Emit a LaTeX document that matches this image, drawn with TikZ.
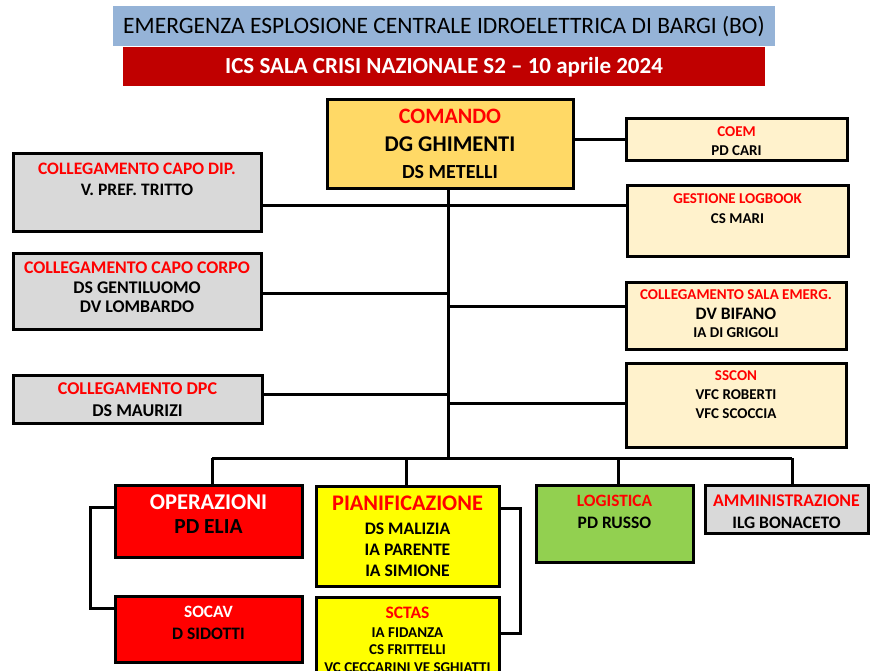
\documentclass[tikz,border=0pt]{standalone}
\usepackage{fontspec}
\setmainfont{Carlito}

\definecolor{cblu}{HTML}{95B3D7}
\definecolor{cbordeaux}{HTML}{C00000}
\definecolor{coro}{HTML}{FFD966}
\definecolor{ccrema}{HTML}{FFF2CC}
\definecolor{cgrigio}{HTML}{D9D9D9}
\definecolor{cverde}{HTML}{92D050}
\definecolor{cgiallo}{HTML}{FFFF00}
\definecolor{crosso}{HTML}{FF0000}

% box body: width, height, top gap, lines
\newcommand{\cella}[4]{\parbox[t][#2pt][t]{#1pt}{\centering\vspace*{#3pt}#4}}
% one text line: size, baselineskip, colour, text
\newcommand{\riga}[4]{{\fontsize{#1pt}{#2pt}\selectfont\leavevmode\color{#3}#4\par}}

\tikzset{
  linea/.style={line width=3pt},
  unita/.style={draw=black, line width=3pt, inner sep=0pt, anchor=north west, font=\bfseries},
  titolo/.style={inner sep=0pt, text height=14.8pt, text depth=0pt},
}

\begin{document}
\begin{tikzpicture}[x=1pt,y=-1pt]
    \useasboundingbox (0,0) rectangle (872,671);
    \clip (0,0) rectangle (872,671);

    % titles
    \node[titolo, fill=cblu, minimum width=662pt, minimum height=40pt,
          font=\fontsize{23.5pt}{27pt}\selectfont] (tit1) at (444,26)
        {EMERGENZA ESPLOSIONE CENTRALE IDROELETTRICA DI BARGI (BO)};
    \node[titolo, fill=cbordeaux, minimum width=642pt, minimum height=39pt, text=white,
          font=\fontsize{23pt}{27pt}\selectfont\bfseries] (tit2) at (444,66.5)
        {ICS SALA CRISI NAZIONALE S2 -- 10 aprile 2024};

    % command
    \node[unita, fill=coro] (comando) at (325.5,98.5) {\cella{246}{89}{9.3}{%
        \riga{22}{22}{crosso}{COMANDO}%
        \riga{22.5}{28.2}{black}{DG GHIMENTI}%
        \riga{20}{26.2}{black}{DS METELLI}}};

    % staff on the right
    \node[unita, fill=ccrema] (coem) at (624.5,117.5) {\cella{221}{42}{7.6}{%
        \riga{15}{15}{crosso}{COEM}%
        \riga{15}{19}{black}{PD CARI}}};
    \node[unita, fill=ccrema] (logbook) at (625.5,184.5) {\cella{221}{70}{7.6}{%
        \riga{15}{15}{crosso}{GESTIONE LOGBOOK}%
        \riga{15}{20}{black}{CS MARI}}};
    \node[unita, fill=ccrema] (salaemerg) at (624.5,280.5) {\cella{220}{67}{7.6}{%
        \riga{15}{15}{crosso}{COLLEGAMENTO SALA EMERG.}%
        \riga{17.5}{19.8}{black}{DV BIFANO}%
        \riga{15}{18.2}{black}{IA DI GRIGOLI}}};
    \node[unita, fill=ccrema] (sscon) at (624.5,361.5) {\cella{220}{84}{7.6}{%
        \riga{15}{15}{crosso}{SSCON}%
        \riga{15}{19}{black}{VFC ROBERTI}%
        \riga{15}{19}{black}{VFC SCOCCIA}}};

    % liaisons on the left
    \node[unita, fill=cgrigio] (capodip) at (11.5,152.5) {\cella{248}{77}{8.8}{%
        \riga{17.5}{17.5}{crosso}{COLLEGAMENTO CAPO DIP.}%
        \riga{17.5}{21}{black}{V. PREF. TRITTO}}};
    \node[unita, fill=cgrigio] (capocorpo) at (11.5,251.5) {\cella{248}{76}{8.7}{%
        \riga{17.8}{17.8}{crosso}{COLLEGAMENTO CAPO CORPO}%
        \riga{17.8}{20}{black}{DS GENTILUOMO}%
        \riga{17.8}{19}{black}{DV LOMBARDO}}};
    \node[unita, fill=cgrigio] (dpc) at (11.5,373.5) {\cella{249}{48}{7.6}{%
        \riga{18}{18}{crosso}{COLLEGAMENTO DPC}%
        \riga{18}{22}{black}{DS MAURIZI}}};

    % sections
    \node[unita, fill=crosso] (operazioni) at (113.5,483.5) {\cella{187}{72}{10.1}{%
        \riga{22.5}{22.5}{white}{OPERAZIONI}%
        \riga{21.5}{23.7}{black}{PD ELIA}}};
    \node[unita, fill=crosso] (socav) at (113.5,594.5) {\cella{187}{66}{9.8}{%
        \riga{17.3}{17.3}{white}{SOCAV}%
        \riga{17.5}{22}{black}{D SIDOTTI}}};
    \node[unita, fill=cgiallo] (pian) at (314.5,484.5) {\cella{183}{100}{10.2}{%
        \riga{22.3}{22.3}{crosso}{PIANIFICAZIONE}%
        \riga{17.6}{23.5}{black}{DS MALIZIA}%
        \riga{17.6}{21}{black}{IA PARENTE}%
        \riga{17.6}{21}{black}{IA SIMIONE}}};
    \node[unita, fill=cgiallo] (sctas) at (314.5,595.5) {\cella{183}{100}{9.8}{%
        \riga{17.5}{17.5}{crosso}{SCTAS}%
        \riga{15}{19.2}{black}{IA FIDANZA}%
        \riga{15}{17}{black}{CS FRITTELLI}%
        \riga{15}{18}{black}{VC CECCARINI VE SGHIATTI}}};
    \node[unita, fill=cverde] (logistica) at (534.5,483.5) {\cella{157}{77}{9.8}{%
        \riga{17.3}{17.3}{crosso}{LOGISTICA}%
        \riga{17.5}{22}{black}{PD RUSSO}}};
    \node[unita, fill=cgrigio] (amministrazione) at (703.5,483.5) {\cella{163}{48}{9.7}{%
        \riga{17.8}{17.8}{crosso}{AMMINISTRAZIONE}%
        \riga{17.5}{22}{black}{ILG BONACETO}}};

    % trunk and branches
    \coordinate (t1) at (448,205);
    \coordinate (t2) at (448,293);
    \coordinate (t3) at (448,306);
    \coordinate (t4) at (448,394);
    \coordinate (t5) at (448,403);
    \coordinate (bus) at (448,458);
    \draw[linea] (comando.south -| bus) -- (bus);
    \draw[linea] (coem.west -| comando.east) -- (coem.west);
    \draw[linea] (t1 -| capodip.east) -- (t1 -| logbook.west);
    \draw[linea] (t2 -| capocorpo.east) -- (t2);
    \draw[linea] (t3) -- (t3 -| salaemerg.west);
    \draw[linea] (t4 -| dpc.east) -- (t4);
    \draw[linea] (t5) -- (t5 -| sscon.west);

    % bus to the sections
    \coordinate (d1) at (212,458);
    \coordinate (d2) at (406,458);
    \coordinate (d3) at (618,458);
    \coordinate (d4) at (792,458);
    \draw[linea] (d1) -- (d4);
    \draw[linea] (d1) -- (d1 |- operazioni.north);
    \draw[linea] (d2) -- (d2 |- pian.north);
    \draw[linea] (d3) -- (d3 |- logistica.north);
    \draw[linea] (d4) -- (d4 |- amministrazione.north);

    % brackets to the units
    \coordinate (b1) at (90,507);
    \coordinate (b2) at (90,608);
    \coordinate (b3) at (520,508);
    \coordinate (b4) at (520,633);
    \draw[linea] (b1 -| operazioni.west) -- (b1) -- (b2) -- (b2 -| socav.west);
    \draw[linea] (b3 -| pian.east) -- (b3) -- (b4) -- (b4 -| sctas.east);
\end{tikzpicture}
\end{document}
